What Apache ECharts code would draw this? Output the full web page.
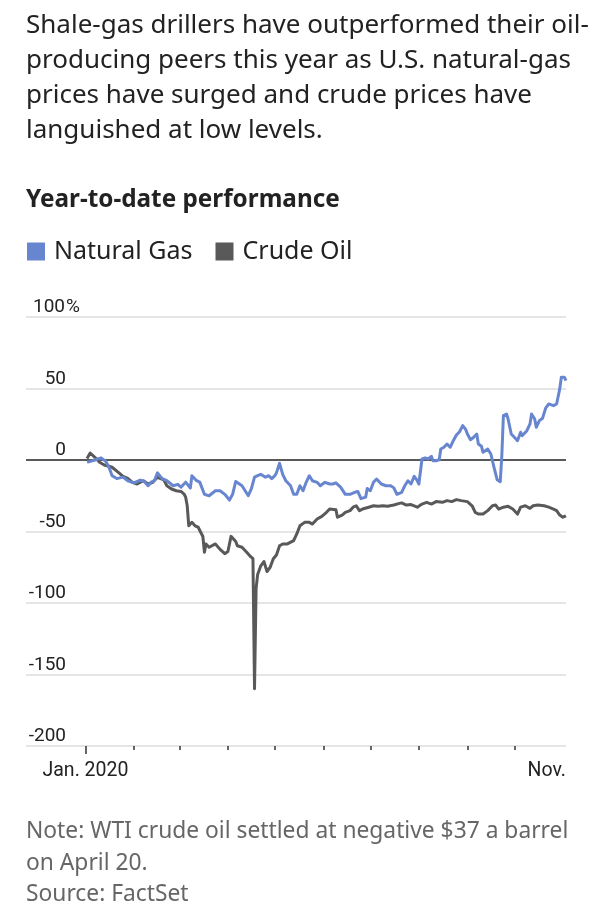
<!DOCTYPE html>
<html>
<head>
<meta charset="utf-8">
<script src="https://cdn.jsdelivr.net/npm/echarts@6/dist/echarts.min.js"></script>
<style>
  html, body { margin: 0; padding: 0; background: #fff; }
  #chart { width: 598px; height: 924px; }
</style>
</head>
<body>
<div id="chart"></div>
<script>
// year-to-date performance, % change
var gasDates = [
  '2020-01-02','2020-01-04','2020-01-07','2020-01-11','2020-01-14','2020-01-16','2020-01-18','2020-01-21','2020-01-25','2020-01-28',
  '2020-02-01','2020-02-05','2020-02-08','2020-02-10','2020-02-12','2020-02-14','2020-02-16','2020-02-19','2020-02-22','2020-02-26','2020-02-29',
  '2020-03-02','2020-03-05','2020-03-08','2020-03-09','2020-03-12','2020-03-14','2020-03-17','2020-03-20','2020-03-24','2020-03-27','2020-03-30',
  '2020-04-02','2020-04-04','2020-04-06','2020-04-10','2020-04-12','2020-04-14','2020-04-16','2020-04-18','2020-04-20','2020-04-22','2020-04-25','2020-04-27','2020-04-29',
  '2020-05-01','2020-05-02','2020-05-04','2020-05-06','2020-05-08','2020-05-11','2020-05-13','2020-05-15','2020-05-17','2020-05-19','2020-05-21','2020-05-23','2020-05-25','2020-05-28','2020-05-30',
  '2020-06-02','2020-06-05','2020-06-07','2020-06-09','2020-06-12','2020-06-15','2020-06-18','2020-06-21','2020-06-23','2020-06-25','2020-06-28','2020-06-29',
  '2020-07-01','2020-07-03','2020-07-05','2020-07-08','2020-07-11','2020-07-14','2020-07-16','2020-07-18','2020-07-21','2020-07-23','2020-07-25','2020-07-27','2020-07-29','2020-07-31',
  '2020-08-01','2020-08-03','2020-08-05','2020-08-07','2020-08-09','2020-08-10','2020-08-12','2020-08-14','2020-08-15','2020-08-17','2020-08-19','2020-08-21','2020-08-23','2020-08-25','2020-08-27','2020-08-29','2020-08-31',
  '2020-09-01','2020-09-03','2020-09-05','2020-09-07','2020-09-08','2020-09-10','2020-09-11','2020-09-14','2020-09-16','2020-09-18','2020-09-19','2020-09-20','2020-09-22','2020-09-23','2020-09-24','2020-09-26','2020-09-27','2020-09-29',
  '2020-10-01','2020-10-03','2020-10-05','2020-10-06','2020-10-09','2020-10-11','2020-10-12','2020-10-14','2020-10-15','2020-10-17','2020-10-19','2020-10-21','2020-10-23','2020-10-26','2020-10-28','2020-10-29','2020-10-30','2020-10-31',
  '2020-11-02','2020-11-03'
];
var gasValues = [
  -1.5, -1, 0, 1.5, -1, -5, -11, -13, -12, -14.5,
  -16, -14, -15.5, -18, -15.5, -14.5, -9, -13, -14.5, -18, -17,
  -19, -15.5, -19.6, -11, -14.5, -15.5, -24, -25, -21.5, -21.5, -24,
  -28, -24, -15, -18, -21.5, -25, -20, -12, -11, -10, -12, -11, -13,
  -11, -9, -2.3, -10, -14.5, -18, -24, -24, -18, -21.5, -15.6, -11, -14.5, -15.6, -18,
  -15.6, -16.8, -16.8, -16, -19, -24, -24, -22.6, -22, -27, -26, -20,
  -21.5, -15.6, -13.3, -16.8, -18, -18, -19.5, -24, -22.6, -18, -14.5, -16.8, -11.4, -14.5,
  -16.8, 0.7, 1.4, 0.7, 2.6, -0.5, -0.5, 0.2, 7.7, 8.9, 11.2, 8.9, 13.5, 17.5, 19.8, 24, 21.2,
  18.2, 14.2, 15.9, 18.2, 11.2, 9.6, 5.4, 7.7, 4.2, -5.1, -6.3, -13.8, -15.2, 3, 31, 32.2, 28.7, 18.2,
  15.9, 13.5, 19.4, 17, 20.5, 25.2, 32.2, 28.7, 22.9, 27.5, 29.2, 36.2, 39.2, 38, 39.2, 38, 49.7, 57.8,
  57.8, 55.5
];

var oilDates = [
  '2020-01-02','2020-01-04','2020-01-07','2020-01-10','2020-01-13','2020-01-16','2020-01-18','2020-01-22','2020-01-25','2020-01-28','2020-01-31',
  '2020-02-03','2020-02-07','2020-02-10','2020-02-13','2020-02-16','2020-02-20','2020-02-22','2020-02-25','2020-02-28',
  '2020-03-02','2020-03-04','2020-03-05','2020-03-06','2020-03-07','2020-03-09','2020-03-11','2020-03-13','2020-03-16','2020-03-17','2020-03-18','2020-03-20','2020-03-24','2020-03-27','2020-03-30',
  '2020-04-01','2020-04-03','2020-04-06','2020-04-07','2020-04-10','2020-04-13','2020-04-15','2020-04-17','2020-04-18','2020-04-19','2020-04-20','2020-04-22','2020-04-24','2020-04-26','2020-04-28','2020-04-30',
  '2020-05-02','2020-05-04','2020-05-06','2020-05-09','2020-05-13','2020-05-15','2020-05-17','2020-05-20','2020-05-23','2020-05-25','2020-05-28','2020-05-31',
  '2020-06-03','2020-06-05','2020-06-09','2020-06-10','2020-06-13','2020-06-15','2020-06-18','2020-06-20','2020-06-22','2020-06-24','2020-06-26','2020-06-30',
  '2020-07-03','2020-07-06','2020-07-09','2020-07-12','2020-07-16','2020-07-19','2020-07-21','2020-07-24','2020-07-27','2020-07-31',
  '2020-08-03','2020-08-06','2020-08-09','2020-08-12','2020-08-16','2020-08-19','2020-08-22','2020-08-25','2020-08-28',
  '2020-09-01','2020-09-04','2020-09-06','2020-09-08','2020-09-11','2020-09-14','2020-09-17','2020-09-19','2020-09-21','2020-09-24','2020-09-27','2020-09-30',
  '2020-10-03','2020-10-05','2020-10-08','2020-10-11','2020-10-13','2020-10-16','2020-10-20','2020-10-23','2020-10-26','2020-10-28','2020-10-30',
  '2020-11-01','2020-11-03'
];
var oilValues = [
  1, 4.9, 1.9, -1.6, -3.5, -4.4, -5.1, -8.6, -11.4, -12.8, -15.6,
  -16.8, -14.5, -16.8, -15.6, -12.1, -13.8, -18, -20.3, -21.5,
  -22, -23.8, -26, -32, -46, -43.6, -46, -47, -53.5, -64.5, -58.7, -61, -58.7, -62.5, -65.5,
  -64, -53.4, -57, -60, -61, -64.5, -67, -69, -160, -90, -80, -74, -71, -78, -75, -69,
  -66.4, -60, -58.7, -58.7, -56.4, -51.7, -46, -43.6, -43.6, -44.8, -41.3, -39.4,
  -36.6, -34.3, -34.8, -40, -38.5, -36.6, -35.4, -33, -32, -35.4, -34.3, -33,
  -32, -32.4, -32, -32.4, -31.5, -30.5, -30, -31.5, -31.2, -33,
  -30.8, -29.6, -30.8, -29.1, -29.6, -28.4, -29.1, -27.7, -28.4,
  -29.1, -32, -36.6, -37.8, -37.8, -35.4, -32, -31.5, -34.3, -33, -32.4, -34.3,
  -37.8, -33, -32, -33.8, -32, -31.5, -32, -33, -34.3, -35.4, -38.5,
  -40, -39
];

var monthTicks = ['2020-02-01','2020-03-01','2020-04-01','2020-05-01','2020-06-01',
                  '2020-07-01','2020-08-01','2020-09-01','2020-10-01'];
var yearTick = '2020-01-01';
var xLabels = ['2020-01-01', '2020-11-03'];
var xLabelText = ['Jan. 2020', 'Nov.'];
var yTicks = [-200, -150, -100, -50, 0, 50, 100];
var xMin = '2019-11-24', xMax = '2020-11-03';

var TEXT = "'Noto Sans', sans-serif";
var AXIS = "Roboto, 'Noto Sans', sans-serif";

function ts(s) { return echarts.number.parseDate(s).getTime(); }
var labelTs = xLabels.map(ts);

// one helper per bottom axis: labels on one, short ticks on another, long Jan tick on the last
function bottomAxis(extra) {
    var ax = {
        type: 'value',
        position: 'bottom',
        min: ts(xMin), max: ts(xMax),
        axisLine: { show: false },
        splitLine: { show: false },
        axisLabel: { show: false },
        axisTick: { show: false }
    };
    for (var k in extra) ax[k] = extra[k];
    return ax;
}

var myChart = echarts.init(document.getElementById('chart'));

var option = {
    animation: false,
    title: [{
        text: 'Shale-gas drillers have outperformed their oil-\nproducing peers this year as U.S. natural-gas\nprices have surged and crude prices have\nlanguished at low levels.',
        left: 21, top: 3,
        textStyle: { fontFamily: TEXT, fontSize: 26, fontWeight: 'normal', color: '#222', lineHeight: 35 }
    }, {
        text: 'Year-to-date performance',
        left: 21, top: 183,
        textStyle: { fontFamily: TEXT, fontSize: 24.3, fontWeight: 'bold', color: '#222' }
    }, {
        text: 'Note: WTI crude oil settled at negative $37 a barrel\non April 20.\nSource: FactSet',
        left: 21, top: 811,
        textStyle: { fontFamily: TEXT, fontSize: 22.8, fontWeight: 'normal', color: '#666', lineHeight: 31.5 }
    }],
    legend: {
        data: ['Natural Gas', 'Crude Oil'],
        left: 22, top: 234,
        icon: 'rect', itemWidth: 18, itemHeight: 18, itemGap: 23,
        textStyle: { fontFamily: TEXT, fontSize: 25, color: '#222', padding: [0, 0, 0, 4] }
    },
    grid: { left: 26, right: 32, top: 317, bottom: 178 },
    xAxis: [
        bottomAxis({
            axisLabel: {
                show: true,
                customValues: labelTs,
                formatter: function (v) {
                    var i = labelTs.indexOf(v);
                    return i >= 0 ? xLabelText[i] : '';
                },
                alignMaxLabel: 'right',
                margin: 15,
                fontFamily: AXIS, fontSize: 19.5, color: '#222'
            }
        }),
        bottomAxis({
            axisTick: {
                show: true, length: 4,
                customValues: monthTicks.map(ts),
                lineStyle: { color: '#333', width: 1.5 }
            }
        }),
        bottomAxis({
            axisTick: {
                show: true, length: 8,
                customValues: [ts(yearTick)],
                lineStyle: { color: '#333', width: 1.5 }
            }
        })
    ],
    yAxis: {
        type: 'value',
        min: -200, max: 100, interval: 50,
        axisLine: { show: false },
        axisTick: { show: false },
        splitLine: {
            lineStyle: {
                width: 1.5,
                color: yTicks.map(function (t) { return t === 0 ? '#222' : '#dddddd'; })
            }
        },
        axisLabel: {
            inside: true,
            margin: 6,
            align: 'left',
            verticalAlign: 'bottom',
            fontFamily: AXIS, fontSize: 19, color: '#222',
            // numbers right-aligned in a fixed box, the % sign hangs past it
            formatter: function (v) {
                return '{n|' + v + '}' + (v === 100 ? '{p|%}' : '');
            },
            rich: {
                n: { fontFamily: AXIS, fontSize: 19, color: '#222', width: 34, align: 'right' },
                p: { fontFamily: AXIS, fontSize: 19, color: '#222' }
            }
        }
    },
    series: [{
        name: 'Natural Gas',
        type: 'line',
        showSymbol: false,
        symbol: 'none',
        color: '#6886d0',
        lineStyle: { width: 3, color: '#6886d0', join: 'round' },
        data: gasDates.map(function (d, i) { return [ts(d), gasValues[i]]; }),
        z: 3
    }, {
        name: 'Crude Oil',
        type: 'line',
        showSymbol: false,
        symbol: 'none',
        color: '#595959',
        lineStyle: { width: 3, color: '#595959', join: 'round' },
        data: oilDates.map(function (d, i) { return [ts(d), oilValues[i]]; }),
        z: 2
    }]
};

myChart.setOption(option);
</script>
</body>
</html>
